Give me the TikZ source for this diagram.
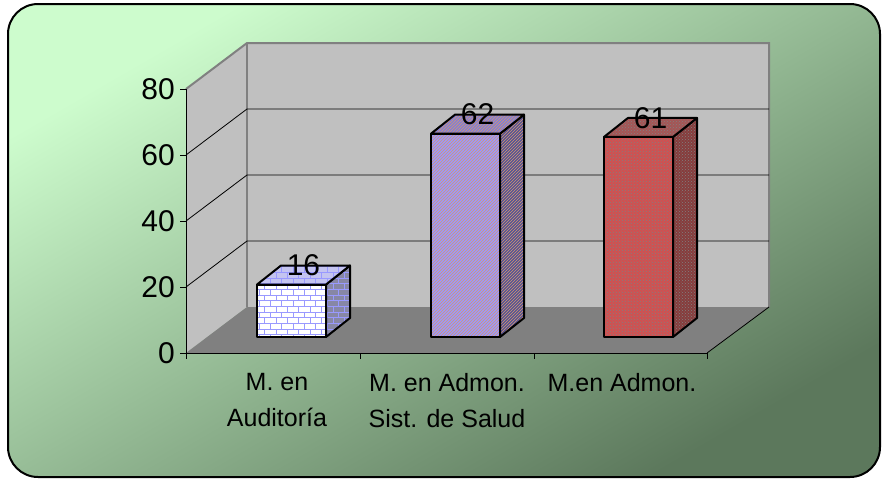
\documentclass[tikz,border=0pt]{standalone}
\usepackage{fontspec}
\setmainfont{Liberation Sans}
\usetikzlibrary{patterns}

\definecolor{bgtop}{RGB}{205,252,205}
\definecolor{bgbot}{RGB}{92,120,92}
\definecolor{wall}{RGB}{192,192,192}
\definecolor{floorgray}{RGB}{128,128,128}
\definecolor{lav}{RGB}{153,153,255}
\definecolor{barAtop}{RGB}{196,196,240}
\definecolor{barAside}{RGB}{135,135,165}
\definecolor{barBtop}{RGB}{128,128,215}
\definecolor{barBside}{RGB}{84,84,150}
\definecolor{barCfront}{RGB}{210,80,80}
\definecolor{barCtop}{RGB}{165,85,85}
\definecolor{barCside}{RGB}{135,60,60}
\definecolor{hatch}{RGB}{215,150,110}

\begin{document}
\begin{tikzpicture}[x=1pt, y=-1pt,
    axislbl/.style={font=\fontsize{30}{30}\selectfont, anchor=east, inner sep=0pt},
    vallbl/.style={font=\fontsize{30}{30}\selectfont, inner sep=0pt},
    catlbl/.style={font=\fontsize{25}{36}\selectfont, align=center, anchor=north, inner sep=0pt},
    face/.style={draw=black, line width=2pt, line join=round},
    wallline/.style={draw=floorgray, line width=2pt},
    grid/.style={draw=black, line width=0.8pt}]
  \useasboundingbox (0,0) rectangle (883,480);
  % background
  \shadedraw[rounded corners=30pt, top color=bgtop, bottom color=bgbot, shading angle=30,
    draw=black, line width=2pt] (8,4) rectangle (880,477);
  % walls and floor
  \fill[wall] (186,89) -- (247,43) -- (247,307) -- (186,353) -- cycle;
  \fill[wall] (247,43) rectangle (769,307);
  \fill[floorgray] (186,353) -- (707,353) -- (769,307) -- (247,307) -- cycle;
  \draw[wallline] (186,89) -- (247,43) -- (769,43) -- (769,307);
  \draw[wallline] (247,43) -- (247,307);
  \draw[grid] (707,353) -- (769,307);
  \foreach \v in {20,40,60}{
    \pgfmathsetmacro\yf{353-\v*3.3}
    \draw[grid] (186,\yf) -- (247,\yf-46) -- (769,\yf-46);
  }
  % axes
  \draw[grid] (186,89) -- (186,353) -- (707,353);
  \foreach \v in {0,20,40,60,80}{
    \pgfmathsetmacro\yf{353-\v*3.3}
    \draw[grid] (180,\yf) -- (186,\yf);
    \node[axislbl] (lbl\v) at (175,\yf) {\v};
  }
  \foreach \x in {186,360,534,707}
    \draw[grid] (\x,353) -- (\x,359);
  % bars
  \foreach \name/\x/\v/\fc/\tc/\sc/\pat/\pc in {%
      a/257/16/white/barAtop/barAside/bricks/lav,%
      b/431/62/lav/barBtop/barBside/north east lines/hatch,%
      c/604/61/barCfront/barCtop/barCside/crosshatch dots/gray}{
    \pgfmathsetmacro\t{337-\v*3.28}
    \path[face, preaction={fill=\sc}, pattern=\pat, pattern color=\pc]
      (\x+69,\t) -- (\x+93,\t-19) -- (\x+93,318) -- (\x+69,337) -- cycle;
    \path[face, preaction={fill=\tc}, pattern=\pat, pattern color=\pc]
      (\x,\t) -- (\x+24,\t-19) -- (\x+93,\t-19) -- (\x+69,\t) -- cycle;
    \path[face, preaction={fill=\fc}, pattern=\pat, pattern color=\pc]
      (\x,\t) rectangle (\x+69,337);
    \node[vallbl] (val\name) at (\x+46.5,\t-19) {\v};
  }
  % categories
  \node[catlbl] (catA) at (277,373) {M. en\\Auditoría};
  \node[catlbl] (catB) at (447,373) {M. en Admon.\\Sist. de Salud};
  \node[catlbl] (catC) at (622,373) {M.en Admon.};
\end{tikzpicture}
\end{document}
